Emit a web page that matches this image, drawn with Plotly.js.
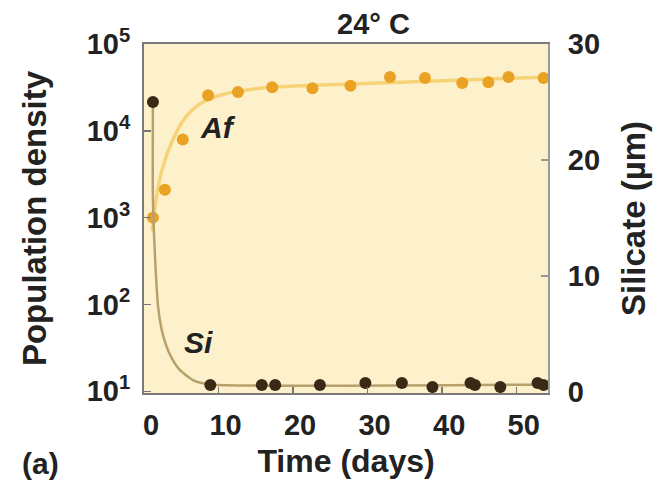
<!DOCTYPE html>
<html>
<head>
<meta charset="utf-8">
<script src="https://cdn.plot.ly/plotly-3.0.1.min.js"></script>
<style>html,body{margin:0;padding:0;background:#fff;}#chart{width:656px;height:484px;}</style>
</head>
<body>
<div id="chart"></div>
<script>
// Af population density (log scale, left axis)
const afDays   = [1.2, 2.8, 5.2, 8.6, 12.6, 17.2, 22.6, 27.7, 33.0, 37.7, 42.7, 46.2, 48.9, 53.6];
const afValues = [1000, 2090, 7940, 25700, 28000, 31700, 30900, 33000, 41700, 40700, 35500, 36300, 41700, 40700];
// Af fitted curve
const afCurveDays   = [1.1, 1.6, 2.4, 3.8, 5.5, 7.5, 10.2, 15.6, 27.7, 41.1, 54.2];
const afCurveValues = [700, 1585, 3520, 7700, 14100, 20400, 25700, 30900, 34600, 38000, 41700];
// Silicate concentration (right axis)
const siDays   = [1.2, 8.9, 15.8, 17.6, 23.6, 29.7, 34.6, 38.7, 43.8, 44.4, 47.8, 52.8, 53.6];
const siValues = [25.0, 0.6, 0.6, 0.6, 0.6, 0.78, 0.78, 0.43, 0.78, 0.6, 0.43, 0.78, 0.6];
// Silicate fitted curve
const siCurveDays   = [1.2, 1.2, 1.5, 1.9, 2.55, 3.5, 4.8, 6.8, 8.9, 54.2];
const siCurveValues = [25.0, 16.5, 11.4, 7.3, 4.9, 3.2, 1.9, 0.95, 0.65, 0.65];
// Tick labels
const xTicks = [0, 10, 20, 30, 40, 50];
const yLogTicks = [10, 100, 1000, 10000, 100000];
const yLogLabels = ['10<sup>1</sup>', '10<sup>2</sup>', '10<sup>3</sup>', '10<sup>4</sup>', '10<sup>5</sup>'];
const y2Ticks = [0, 10, 20, 30];

const FONT = 'Liberation Sans, Arial, Helvetica, sans-serif';
const TXT = '#222222';

const traces = [
  {x: siCurveDays, y: siCurveValues, yaxis: 'y2', mode: 'lines', line: {color: '#b8a06c', width: 2.5, shape: 'spline', smoothing: 0.6}, hoverinfo: 'skip', showlegend: false},
  {x: afCurveDays, y: afCurveValues, mode: 'lines', line: {color: '#f7d378', width: 3.5, shape: 'spline', smoothing: 0.8}, hoverinfo: 'skip', showlegend: false},
  {x: afDays, y: afValues, mode: 'markers', marker: {color: '#e9a223', size: 12}, name: 'Af', showlegend: false},
  {x: siDays, y: siValues, yaxis: 'y2', mode: 'markers', marker: {color: '#3a2a15', size: 12}, name: 'Si', showlegend: false}
];

const layout = {
  width: 656, height: 484,
  margin: {l: 144, r: 108, t: 44, b: 91, pad: 0},
  paper_bgcolor: '#ffffff',
  plot_bgcolor: '#fdf1cc',
  showlegend: false,
  font: {family: FONT, color: TXT},
  xaxis: {
    range: [0, 54.2], tickvals: xTicks, ticktext: xTicks.map(String),
    ticks: 'inside', ticklen: 6, tickcolor: '#777', tickwidth: 1.5,
    ticklabelshift: 7, ticklabelstandoff: 5,
    showline: true, linecolor: '#7a7a7a', linewidth: 2, mirror: true,
    showgrid: false, zeroline: false,
    tickfont: {family: FONT, size: 29, weight: 'bold', color: TXT},
    title: {text: 'Time (days)', font: {family: FONT, size: 32, weight: 'bold', color: TXT}, standoff: 10}
  },
  yaxis: {
    type: 'log', range: [0.98, 5.0], tickvals: yLogTicks, ticktext: yLogLabels,
    ticks: 'inside', ticklen: 7, tickcolor: '#777', tickwidth: 1.5,
    ticklabelstandoff: 6,
    showline: true, linecolor: '#7a7a7a', linewidth: 2,
    showgrid: false, zeroline: false,
    tickfont: {family: FONT, size: 29, weight: 'bold', color: TXT},
    title: {text: 'Population density', font: {family: FONT, size: 33, weight: 'bold', color: TXT}, standoff: 30}
  },
  yaxis2: {
    overlaying: 'y', side: 'right', range: [-0.086, 30], tickvals: y2Ticks, ticktext: y2Ticks.map(String),
    ticks: 'inside', ticklen: 7, tickcolor: '#999', tickwidth: 1.5,
    ticklabelstandoff: 12,
    showline: true, linecolor: '#9a9a9a', linewidth: 2,
    showgrid: false, zeroline: false,
    tickfont: {family: FONT, size: 29, weight: 'bold', color: TXT},
    title: {text: 'Silicate (µm)', font: {family: FONT, size: 33, weight: 'bold', color: TXT}, standoff: 23}
  },
  annotations: [
    {text: '24° C', xref: 'paper', yref: 'paper', x: 0.567, y: 1.057, showarrow: false, xanchor: 'center', yanchor: 'middle', font: {family: FONT, size: 29, weight: 'bold', color: TXT}},
    {text: '<i>Af</i>', xref: 'paper', yref: 'paper', x: 0.183, y: 0.762, showarrow: false, xanchor: 'center', yanchor: 'middle', font: {family: FONT, size: 30, weight: 'bold', color: TXT}},
    {text: '<i>Si</i>', xref: 'paper', yref: 'paper', x: 0.136, y: 0.146, showarrow: false, xanchor: 'center', yanchor: 'middle', font: {family: FONT, size: 30, weight: 'bold', color: TXT}},
    {text: '(a)', xref: 'paper', yref: 'paper', x: -0.255, y: -0.203, showarrow: false, xanchor: 'center', yanchor: 'middle', font: {family: FONT, size: 30, weight: 'bold', color: TXT}}
  ]
};

Plotly.newPlot('chart', traces, layout, {staticPlot: true, displayModeBar: false});
</script>
</body>
</html>
